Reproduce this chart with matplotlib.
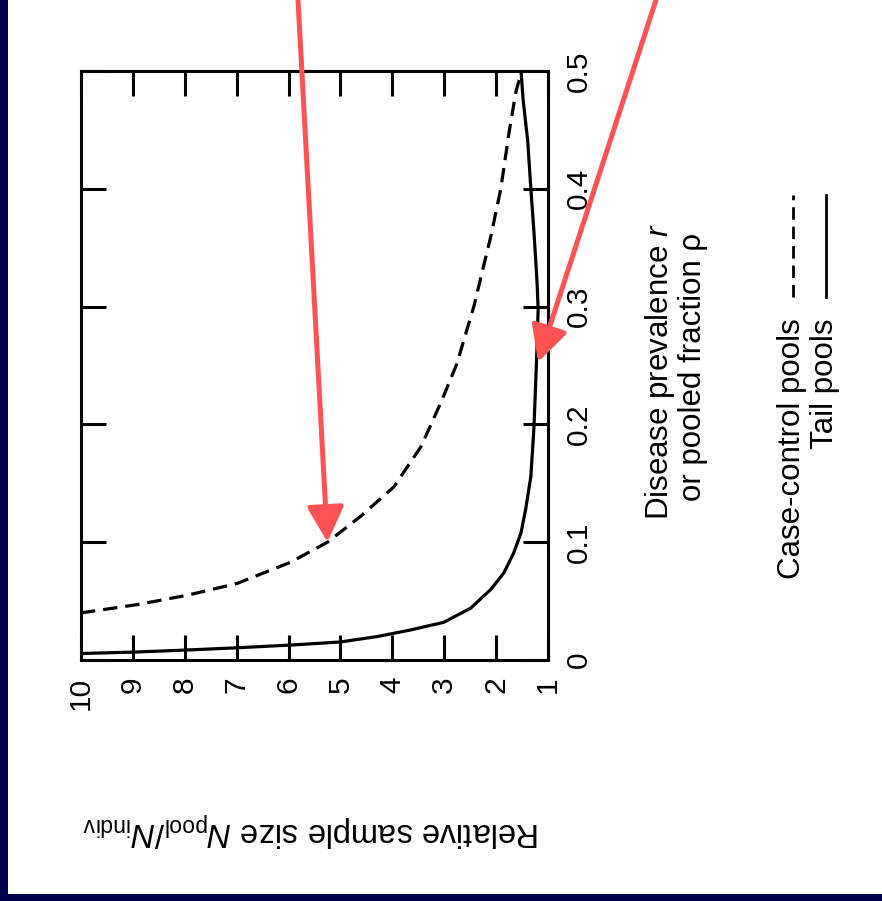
import numpy as np
import matplotlib
matplotlib.use('Agg')
from matplotlib import pyplot as plt
from matplotlib.lines import Line2D
from matplotlib.patches import Rectangle

plt.rcParams['font.family'] = 'Liberation Sans'
plt.rcParams['mathtext.fontset'] = 'custom'
plt.rcParams['mathtext.rm'] = 'Liberation Sans'
plt.rcParams['mathtext.it'] = 'Liberation Sans:italic'

# relative sample size N_pool/N_indiv against prevalence / pooled fraction
cc_size = [10.0, 8.92, 7.95, 6.99, 5.96, 5.25, 4.61, 3.97, 3.45, 3.07, 2.76,
           2.43, 2.10, 1.91, 1.75, 1.62, 1.54, 1.52]
cc_frac = [0.040, 0.047, 0.055, 0.065, 0.083, 0.100, 0.122, 0.147, 0.181, 0.218,
           0.251, 0.300, 0.360, 0.400, 0.448, 0.482, 0.495, 0.500]

tail_size = [10.0, 8.92, 7.95, 7.07, 5.91, 5.00, 4.28, 3.65, 3.01, 2.49, 2.10,
             1.85, 1.66, 1.52, 1.43, 1.33, 1.27, 1.22, 1.19, 1.21, 1.27, 1.33,
             1.39, 1.48, 1.52]
tail_frac = [0.0055, 0.0068, 0.0085, 0.0102, 0.0128, 0.0153, 0.020, 0.0255, 0.032,
             0.044, 0.060, 0.074, 0.091, 0.108, 0.128, 0.156, 0.198, 0.255, 0.298,
             0.320, 0.363, 0.400, 0.440, 0.476, 0.500]

series_names = ['Case-control pools', 'Tail pools']
size_ticks = [1, 2, 3, 4, 5, 6, 7, 8, 9, 10]
frac_ticks = [0, 0.1, 0.2, 0.3, 0.4, 0.5]

# where the two pointers land (size, fraction)
pointer_tips = [(5.25, 0.100), (1.19, 0.253)]

W, H = 882, 901
def fx(x):
    return x / W
def fy(y):
    return 1 - y / H

fig = plt.figure(figsize=(8.82, 9.01), dpi=100, facecolor='#00004d')
fig.patches.append(Rectangle((fx(8), fy(894)), 1, 1, transform=fig.transFigure,
                             facecolor='white', edgecolor='none', zorder=-1))

ax = fig.add_axes([fx(81), fy(660), fx(548) - fx(81), fy(71) - fy(660)])
ax.set_facecolor('white')

ax.plot(cc_size, cc_frac, color='black', lw=2.3, linestyle=(0, (4.5, 2.5)))
ax.plot(tail_size, tail_frac, color='black', lw=2.3)

ax.set_xlim(10, 1)
ax.set_ylim(0, 0.5)
ax.set_xticks(size_ticks)
ax.set_xticklabels([str(t) for t in size_ticks])
ax.set_yticks(frac_ticks)
ax.set_yticklabels(['0', '0.1', '0.2', '0.3', '0.4', '0.5'])
for s in ax.spines.values():
    s.set_linewidth(2.2)
ax.tick_params(direction='in', length=18, width=2.2, top=True, right=True,
               bottom=True, left=True, labelleft=False, labelright=True,
               labelsize=21.5)
ax.tick_params(axis='x', pad=12, labelrotation=90)
ax.tick_params(axis='y', pad=12, labelrotation=90)
for lab in ax.get_yticklabels():
    lab.set_verticalalignment('center')

# axis titles
fig.text(fx(660), fy(372), r'Disease prevalence $\mathit{r}$', rotation=90,
         ha='center', va='center', fontsize=22.5)
fig.text(fx(693), fy(367), 'or pooled fraction ρ', rotation=90,
         ha='center', va='center', fontsize=22.5)
fig.text(fx(311), fy(829),
         r'Relative sample size $\mathit{N}_{\mathrm{pool}}/\mathit{N}_{\mathrm{indiv}}$',
         rotation=180, ha='center', va='center', fontsize=23.5)

# key
key_x = [793, 826]
styles = [(0, (4.5, 2.5)), '-']
for name, kx, ls in zip(series_names, key_x, styles):
    fig.add_artist(Line2D([fx(kx), fx(kx)], [fy(297), fy(195)], color='black',
                          lw=2.0, linestyle=ls, transform=fig.transFigure))
    fig.text(fx(kx - 1), fy(318), name, rotation=90, ha='center', va='top',
             fontsize=22.5)

# pointers
starts = [(fx(298), 1.0), (fx(656), 1.0)]
for tip, start in zip(pointer_tips, starts):
    ax.annotate('', xy=tip, xycoords='data', xytext=start,
                textcoords='figure fraction', annotation_clip=False,
                arrowprops=dict(arrowstyle='-|>,head_length=1.45,head_width=0.75',
                                mutation_scale=15, color='#ff5252', lw=3.6,
                                shrinkA=0, shrinkB=0))

plt.savefig('out.png', dpi=100, facecolor=fig.get_facecolor())
